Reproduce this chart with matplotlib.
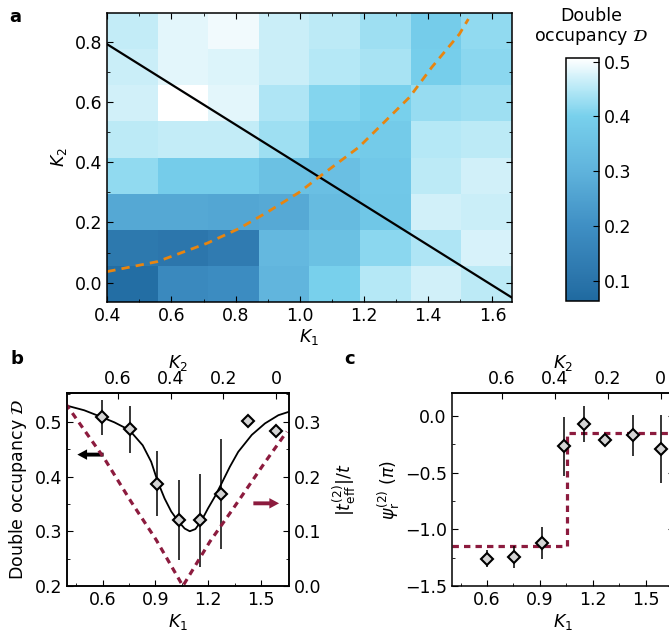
import numpy as np
import matplotlib
matplotlib.use('Agg')
import matplotlib.pyplot as plt
from matplotlib.colors import LinearSegmentedColormap
from matplotlib.ticker import MultipleLocator, FuncFormatter

# ---- panel a: measured double occupancy map (rows: K2 low -> high, cols: K1 low -> high)
occupancy_map = [
    [0.08, 0.18, 0.19, 0.31, 0.40, 0.45, 0.47, 0.455],
    [0.12, 0.11, 0.13, 0.32, 0.35, 0.415, 0.445, 0.475],
    [0.27, 0.27, 0.265, 0.275, 0.33, 0.37, 0.47, 0.465],
    [0.42, 0.39, 0.39, 0.35, 0.345, 0.375, 0.455, 0.47],
    [0.455, 0.46, 0.46, 0.43, 0.39, 0.385, 0.45, 0.455],
    [0.47, 0.506, 0.485, 0.445, 0.41, 0.40, 0.425, 0.43],
    [0.465, 0.485, 0.48, 0.465, 0.45, 0.44, 0.395, 0.415],
    [0.46, 0.485, 0.495, 0.465, 0.455, 0.43, 0.39, 0.42],
]
map_k1 = (0.4, 1.66)
map_k2 = (-0.063, 0.894)

cut_k1 = [0.4, 1.66]
cut_k2 = [0.791, -0.049]

theory_k1 = [0.4, 0.556, 0.711, 0.811, 0.9, 0.998, 1.06, 1.184, 1.342, 1.411, 1.497, 1.525]
theory_k2 = [0.037, 0.070, 0.131, 0.18, 0.235, 0.30, 0.351, 0.45, 0.616, 0.715, 0.825, 0.875]

# ---- panel b
k1_points = [0.598, 0.755, 0.91, 1.035, 1.152, 1.27, 1.427, 1.586]
occ_points = [0.508, 0.486, 0.387, 0.320, 0.320, 0.368, 0.502, 0.483]
occ_err = [0.032, 0.043, 0.059, 0.073, 0.085, 0.10, 0.004, 0.011]

fit_k1 = [0.391, 0.496, 0.591, 0.667, 0.752, 0.828, 0.876, 0.914, 0.952, 0.990,
          1.028, 1.066, 1.095, 1.127, 1.161, 1.199, 1.237, 1.275, 1.323, 1.370,
          1.447, 1.522, 1.598, 1.665]
fit_occ = [0.530, 0.521, 0.509, 0.499, 0.485, 0.457, 0.427, 0.390, 0.360, 0.336,
           0.319, 0.305, 0.300, 0.304, 0.319, 0.342, 0.363, 0.387, 0.418, 0.445,
           0.476, 0.497, 0.512, 0.519]

teff_k1 = [0.391, 0.61, 0.762, 0.905, 1.056, 1.209, 1.332, 1.522, 1.646]
teff_vals = [0.333, 0.233, 0.154, 0.084, 0.0, 0.081, 0.137, 0.226, 0.282]

# ---- panel c
phase_points = [-1.258, -1.245, -1.121, -0.266, -0.074, -0.213, -0.171, -0.295]
phase_err = [0.077, 0.10, 0.14, 0.26, 0.16, 0.02, 0.18, 0.30]
step_k1 = [0.4, 1.055, 1.66]
step_phase = [-1.145, -0.147, -0.147]

k2_ticks = [0.6, 0.4, 0.2, 0.0]

plt.rcParams['font.size'] = 12.5
plt.rcParams['axes.linewidth'] = 1.1
plt.rcParams['xtick.direction'] = 'in'
plt.rcParams['ytick.direction'] = 'in'
plt.rcParams['xtick.major.size'] = 4
plt.rcParams['ytick.major.size'] = 4
plt.rcParams['xtick.minor.size'] = 2.2
plt.rcParams['ytick.minor.size'] = 2.2

red = '#8c1b3e'
W, H = 669, 637
fig = plt.figure(figsize=(W / 100, H / 100), dpi=100)


def box(x0, y0, x1, y1):
    return [x0 / W, 1 - y1 / H, (x1 - x0) / W, (y1 - y0) / H]


# colormap
cvals = [0.063, 0.1, 0.2, 0.3, 0.4, 0.45, 0.506]
ccols = ['#1f6aa0', '#2a74aa', '#3f8fc4', '#5fb3dc', '#78d0ec', '#b5e8f6', '#ffffff']
cmap = LinearSegmentedColormap.from_list(
    'occ', [((v - cvals[0]) / (cvals[-1] - cvals[0]), c) for v, c in zip(cvals, ccols)])

# ---------------- panel a
ax = fig.add_axes(box(107.3, 13.3, 511.7, 301.7))
im = ax.imshow(np.array(occupancy_map), origin='lower', aspect='auto', cmap=cmap,
               vmin=cvals[0], vmax=cvals[-1], interpolation='nearest',
               extent=[map_k1[0], map_k1[1], map_k2[0], map_k2[1]])
ax.plot(cut_k1, cut_k2, color='black', lw=1.6)
ax.plot(theory_k1, theory_k2, color='#e8850f', lw=2, ls=(0, (3, 2.2)))
ax.set_xlim(map_k1)
ax.set_ylim(map_k2)
ax.xaxis.set_major_locator(MultipleLocator(0.2))
ax.xaxis.set_minor_locator(MultipleLocator(0.1))
ax.yaxis.set_major_locator(MultipleLocator(0.2))
ax.yaxis.set_minor_locator(MultipleLocator(0.1))
ax.tick_params(which='both', top=True, right=True)
ax.set_xlabel('$K_1$', labelpad=2)
ax.set_ylabel('$K_2$', labelpad=4)

cax = fig.add_axes(box(565.7, 58.3, 599.3, 301))
cb = fig.colorbar(im, cax=cax)
cb.set_ticks([0.1, 0.2, 0.3, 0.4, 0.5])
cax.tick_params(direction='in', length=4)
cb.outline.set_linewidth(1.1)
fig.text(591.7 / W, 1 - 27 / H, 'Double\noccupancy $\\mathcal{D}$',
         ha='center', va='center', multialignment='center', fontsize=12.5)


def k1_to_k2(k1):
    return (1.586 - np.asarray(k1)) / 1.5


def k2_to_k1(k2):
    return 1.586 - 1.5 * np.asarray(k2)


k2_fmt = FuncFormatter(lambda v, p: '0' if abs(v) < 1e-9 else f'{v:.1f}')
arrow_kw = dict(width=2.8, headwidth=7.5, headlength=7, lw=0, shrink=0)

# ---------------- panel b
axb = fig.add_axes(box(67.3, 393.3, 289.3, 586))
axb.plot(fit_k1, fit_occ, color='black', lw=1.3, zorder=2)
axb.errorbar(k1_points, occ_points, yerr=occ_err, fmt='D', ms=6.5, mfc='#d4d4d4',
             mec='black', mew=1.5, ecolor='black', elinewidth=1.1, capsize=0, zorder=3)
axb.annotate('', xy=(0.457, 0.440), xytext=(0.606, 0.440),
             arrowprops=dict(color='black', **arrow_kw))
axb.set_xlim(0.4, 1.66)
axb.set_ylim(0.2, 0.552)
axb.xaxis.set_major_locator(MultipleLocator(0.3))
axb.xaxis.set_minor_locator(MultipleLocator(0.15))
axb.yaxis.set_major_locator(MultipleLocator(0.1))
axb.yaxis.set_minor_locator(MultipleLocator(0.05))
axb.tick_params(which='both', top=False, right=False)
axb.set_xlabel('$K_1$', labelpad=2)
axb.set_ylabel('Double occupancy $\\mathcal{D}$', labelpad=4)

axb2 = axb.twinx()
axb2.plot(teff_k1, teff_vals, color=red, lw=2.3, ls=(0, (2.0, 1.6)))
axb2.annotate('', xy=(1.602, 0.151), xytext=(1.456, 0.151),
              arrowprops=dict(color=red, **arrow_kw))
axb2.set_ylim(0.0, 0.352)
axb2.yaxis.set_major_locator(MultipleLocator(0.1))
axb2.yaxis.set_minor_locator(MultipleLocator(0.05))
axb2.set_ylabel('$|t_{\\rm eff}^{(2)}|/t$', labelpad=6)

secb = axb.secondary_xaxis('top', functions=(k1_to_k2, k2_to_k1))
secb.set_xticks(k2_ticks)
secb.xaxis.set_major_formatter(k2_fmt)
secb.tick_params(direction='in', length=4)
secb.set_xlabel('$K_2$', labelpad=2)

# ---------------- panel c
axc = fig.add_axes(box(451.7, 393.3, 673.7, 586))
axc.step(step_k1, step_phase, where='post', color=red, lw=2.3, ls=(0, (2.0, 1.6)))
axc.errorbar(k1_points, phase_points, yerr=phase_err, fmt='D', ms=6.5, mfc='#d4d4d4',
             mec='black', mew=1.5, ecolor='black', elinewidth=1.1, capsize=0, zorder=3)
axc.set_xlim(0.4, 1.66)
axc.set_ylim(-1.5, 0.2)
axc.xaxis.set_major_locator(MultipleLocator(0.3))
axc.xaxis.set_minor_locator(MultipleLocator(0.15))
axc.yaxis.set_major_locator(MultipleLocator(0.5))
axc.yaxis.set_minor_locator(MultipleLocator(0.25))
axc.tick_params(which='both', top=False, right=True)
axc.set_xlabel('$K_1$', labelpad=2)
axc.set_ylabel('$\\psi_{\\rm r}^{(2)}$ ($\\pi$)', labelpad=2)

secc = axc.secondary_xaxis('top', functions=(k1_to_k2, k2_to_k1))
secc.set_xticks(k2_ticks)
secc.xaxis.set_major_formatter(k2_fmt)
secc.tick_params(direction='in', length=4)
secc.set_xlabel('$K_2$', labelpad=2)

for lbl, (px, py) in zip('abc', [(15, 17), (16.7, 359.3), (350, 359.3)]):
    fig.text(px / W, 1 - py / H, lbl, fontweight='bold', fontsize=13,
             ha='center', va='center')

fig.savefig('out.png', dpi=100)
